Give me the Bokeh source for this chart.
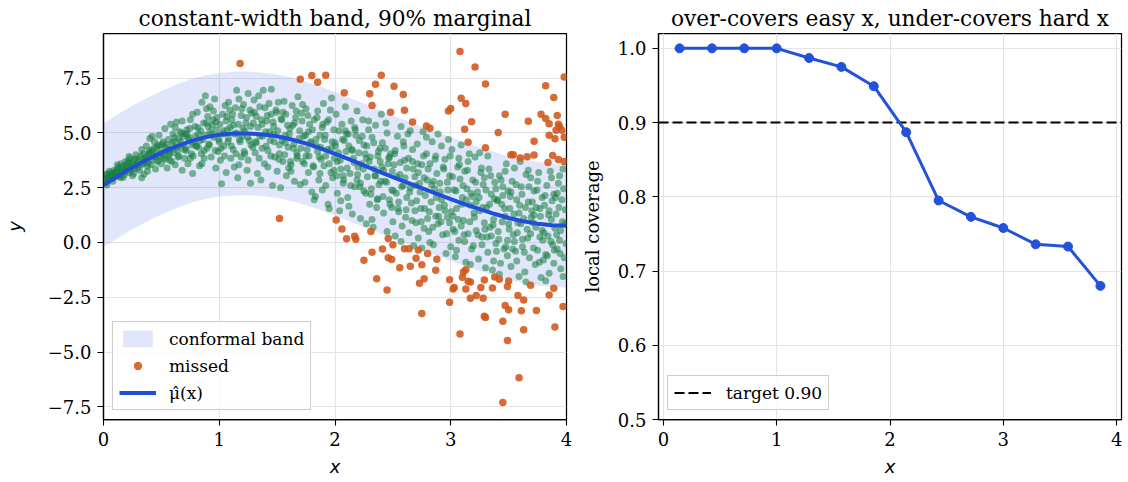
from bokeh.plotting import figure
from bokeh.models import Range1d, FixedTicker, Legend, LegendItem
from bokeh.layouts import row
from bokeh.embed import file_html
from bokeh.resources import INLINE

# ---------------- data: left panel ----------------
mu_x = [0.0, 0.125, 0.25, 0.375, 0.5, 0.625, 0.75, 0.875, 1.0, 1.125, 1.25, 1.375, 1.5,
        1.625, 1.75, 1.875, 2.0, 2.125, 2.25, 2.375, 2.5, 2.625, 2.75, 2.875, 3.0,
        3.125, 3.25, 3.375, 3.5, 3.625, 3.75, 3.875, 4.0]
mu_y = [2.62, 3.03, 3.42, 3.78, 4.10, 4.38, 4.62, 4.80, 4.92, 4.97, 4.98, 4.93, 4.85,
        4.70, 4.52, 4.30, 4.05, 3.79, 3.52, 3.25, 2.98, 2.73, 2.48, 2.23, 1.98,
        1.74, 1.52, 1.31, 1.12, 0.97, 0.86, 0.79, 0.76]
band_q = 2.82

covered = [
    (0.01,2.95),(0.02,2.72),(0.03,3.10),(0.04,2.85),(0.05,3.25),(0.06,2.98),(0.07,3.05),(0.08,2.80),(0.09,3.30),(0.03,2.62),(0.06,3.18),(0.10,3.02),
    (0.11,3.28),(0.12,3.05),(0.13,3.45),(0.14,3.15),(0.15,3.60),(0.16,3.22),(0.17,2.98),(0.18,3.40),(0.19,3.70),(0.12,3.55),(0.15,2.95),(0.18,3.10),(0.20,3.32),
    (0.21,3.62),(0.22,3.20),(0.23,3.85),(0.24,3.48),(0.25,3.05),(0.26,3.75),(0.27,3.38),(0.28,4.00),(0.29,3.55),(0.22,3.92),(0.26,3.15),(0.30,3.68),
    (0.31,3.30),(0.32,3.95),(0.33,4.25),(0.34,3.60),(0.35,3.12),(0.36,3.85),(0.37,4.40),(0.38,3.48),(0.39,4.05),(0.33,2.95),(0.36,3.70),(0.40,4.75),(0.38,3.25),
    (0.41,3.55),(0.42,4.20),(0.43,3.90),(0.44,4.60),(0.45,3.35),(0.46,4.35),(0.47,3.75),(0.48,4.90),(0.49,4.10),(0.42,4.85),(0.45,3.95),(0.50,3.60),(0.47,4.45),
    (0.51,4.50),(0.52,3.85),(0.53,5.20),(0.54,4.15),(0.55,3.40),(0.56,4.70),(0.57,4.05),(0.58,5.40),(0.59,3.70),(0.53,4.35),(0.56,3.95),(0.60,4.95),(0.58,4.25),
    (0.61,4.60),(0.62,3.55),(0.63,5.50),(0.64,4.20),(0.65,3.95),(0.66,5.05),(0.67,4.45),(0.68,3.30),(0.69,4.85),(0.62,5.25),(0.65,4.75),(0.70,3.85),(0.68,5.55),
    (0.71,4.30),(0.72,5.15),(0.73,3.60),(0.74,4.80),(0.75,5.60),(0.76,4.05),(0.77,3.15),(0.78,4.55),(0.79,5.30),(0.72,4.95),(0.75,3.85),(0.80,4.40),(0.77,5.85),
    (0.81,5.95),(0.82,4.35),(0.83,3.50),(0.84,5.10),(0.85,6.40),(0.86,4.70),(0.87,3.85),(0.88,6.70),(0.89,5.45),(0.82,4.95),(0.85,3.60),(0.90,5.75),(0.87,4.20),(0.89,6.10),
    (0.91,4.50),(0.92,6.20),(0.93,3.90),(0.94,5.35),(0.95,4.80),(0.96,6.55),(0.97,3.40),(0.98,5.70),(0.99,4.15),(0.92,5.05),(0.95,6.00),(1.00,4.60),(0.97,5.50),
    (1.01,3.75),(1.02,2.68),(1.03,5.85),(1.04,4.40),(1.05,6.25),(1.06,3.20),(1.07,5.15),(1.08,4.75),(1.09,6.05),(1.03,4.95),(1.06,5.55),(1.10,3.85),(1.08,6.40),
    (1.11,5.60),(1.12,4.25),(1.13,3.45),(1.14,6.15),(1.15,5.00),(1.16,2.95),(1.17,6.55),(1.18,4.60),(1.19,3.90),(1.12,5.35),(1.15,6.95),(1.20,4.85),(1.17,3.55),(1.19,5.80),
    (1.21,6.30),(1.22,4.05),(1.23,5.45),(1.24,3.30),(1.25,6.80),(1.26,4.65),(1.27,2.70),(1.28,5.90),(1.29,4.35),(1.22,5.10),(1.25,3.75),(1.30,6.50),(1.27,5.30),
    (1.31,4.10),(1.32,5.75),(1.33,3.15),(1.34,6.70),(1.35,4.85),(1.36,2.85),(1.37,5.40),(1.38,6.95),(1.39,3.60),(1.32,4.55),(1.35,6.20),(1.40,5.05),(1.37,4.30),
    (1.41,5.55),(1.42,3.45),(1.43,6.35),(1.44,4.65),(1.45,7.00),(1.46,2.60),(1.47,4.95),(1.48,3.90),(1.49,6.05),(1.42,4.20),(1.45,5.85),(1.50,3.25),(1.47,5.30),
    (1.51,6.40),(1.52,4.45),(1.53,2.50),(1.54,5.60),(1.55,3.70),(1.56,6.45),(1.57,4.90),(1.58,3.05),(1.59,5.35),(1.52,4.05),(1.55,5.95),(1.60,3.40),(1.57,4.55),
    (1.61,5.20),(1.62,3.25),(1.63,6.25),(1.64,4.30),(1.65,2.80),(1.66,5.70),(1.67,3.85),(1.68,6.65),(1.69,4.75),(1.62,3.55),(1.65,5.45),(1.70,2.65),(1.67,4.10),
    (1.71,5.90),(1.72,3.70),(1.73,4.85),(1.74,2.75),(1.75,6.10),(1.76,4.25),(1.77,3.20),(1.78,5.40),(1.79,4.60),(1.72,6.30),(1.75,3.95),(1.80,2.30),(1.77,5.05),
    (1.81,3.50),(1.82,5.60),(1.83,2.10),(1.84,4.40),(1.85,6.00),(1.86,2.85),(1.87,4.90),(1.88,3.80),(1.89,5.25),(1.82,1.95),(1.85,4.15),(1.90,6.35),(1.87,3.15),(1.89,2.40),
    (1.91,4.70),(1.92,2.60),(1.93,5.50),(1.94,1.75),(1.95,3.60),(1.96,6.05),(1.97,4.30),(1.98,2.95),(1.99,5.15),(1.92,3.95),(1.95,1.55),(2.00,4.55),(1.97,6.60),(1.99,3.30),
    (2.01,5.85),(2.02,2.25),(2.03,4.10),(2.04,1.45),(2.05,3.35),(2.06,5.40),(2.07,2.70),(2.08,4.65),(2.09,6.20),(2.02,3.70),(2.05,1.90),(2.10,4.95),(2.07,3.05),(2.09,5.10),
    (2.11,2.05),(2.12,4.40),(2.13,3.15),(2.14,5.55),(2.15,1.30),(2.16,3.85),(2.17,2.55),(2.18,4.90),(2.19,6.00),(2.12,1.65),(2.15,4.20),(2.20,3.45),(2.17,5.25),(2.19,2.85),
    (2.21,4.65),(2.22,1.10),(2.23,3.60),(2.24,5.60),(2.25,2.35),(2.26,4.05),(2.27,0.85),(2.28,3.00),(2.29,5.15),(2.22,2.70),(2.25,4.45),(2.30,1.75),(2.27,3.85),(2.29,5.55),
    (2.31,2.20),(2.32,4.80),(2.33,0.70),(2.34,3.35),(2.35,5.35),(2.36,1.60),(2.37,3.95),(2.38,2.65),(2.39,4.30),(2.32,1.05),(2.35,3.05),(2.40,5.85),(2.37,2.00),(2.39,3.70),
    (2.41,4.55),(2.42,1.35),(2.43,2.80),(2.44,5.45),(2.45,0.50),(2.46,3.60),(2.47,1.95),(2.48,4.05),(2.49,2.40),(2.42,3.30),(2.45,5.00),(2.50,0.95),(2.47,3.90),(2.49,1.60),
    (2.51,3.55),(2.52,0.30),(2.53,2.25),(2.54,4.85),(2.55,1.40),(2.56,3.10),(2.57,5.30),(2.58,0.75),(2.59,2.60),(2.52,4.20),(2.55,1.85),(2.60,3.75),(2.57,0.05),(2.59,4.60),
    (2.61,1.15),(2.62,3.40),(2.63,4.95),(2.64,0.45),(2.65,2.50),(2.66,1.80),(2.67,4.25),(2.68,-0.15),(2.69,3.00),(2.62,2.05),(2.65,5.10),(2.70,0.90),(2.67,3.70),(2.69,1.45),
    (2.71,4.50),(2.72,0.20),(2.73,2.70),(2.74,1.55),(2.75,3.55),(2.76,5.05),(2.77,0.65),(2.78,2.15),(2.79,4.05),(2.72,3.20),(2.75,-0.25),(2.80,1.10),(2.77,2.95),(2.79,4.80),
    (2.81,0.50),(2.82,3.60),(2.83,1.85),(2.84,4.60),(2.85,-0.10),(2.86,2.45),(2.87,1.20),(2.88,3.15),(2.89,4.95),(2.82,0.00),(2.85,2.80),(2.90,1.60),(2.87,3.95),(2.89,0.85),
    (2.91,2.30),(2.92,4.40),(2.93,0.35),(2.94,3.35),(2.95,1.45),(2.96,-0.50),(2.97,2.75),(2.98,4.70),(2.99,0.90),(2.92,1.95),(2.95,3.80),(3.00,-0.20),(2.97,1.15),(2.99,3.05),
    (3.01,4.25),(3.02,0.60),(3.03,2.40),(3.04,-0.65),(3.05,1.55),(3.06,3.45),(3.07,0.10),(3.08,2.90),(3.09,4.45),(3.02,1.20),(3.05,-0.35),(3.10,2.05),(3.07,3.85),(3.09,0.75),
    (3.11,1.00),(3.12,3.25),(3.13,-0.90),(3.14,2.45),(3.15,0.40),(3.16,4.05),(3.17,1.70),(3.18,-0.30),(3.19,2.85),(3.12,0.05),(3.15,3.70),(3.20,1.35),(3.17,-1.00),(3.19,2.10),
    (3.21,3.90),(3.22,0.55),(3.23,2.30),(3.24,-0.75),(3.25,1.45),(3.26,3.20),(3.27,-0.10),(3.28,2.65),(3.29,0.90),(3.22,1.85),(3.25,4.10),(3.30,-1.15),(3.27,0.25),(3.29,2.95),
    (3.31,1.60),(3.32,-0.45),(3.33,3.35),(3.34,0.70),(3.35,2.20),(3.36,-1.25),(3.37,1.05),(3.38,2.75),(3.39,-0.05),(3.32,3.95),(3.35,0.30),(3.40,1.90),(3.37,-0.85),(3.39,2.45),
    (3.41,0.50),(3.42,3.05),(3.43,-0.95),(3.44,1.75),(3.45,2.55),(3.46,-0.30),(3.47,1.20),(3.48,3.60),(3.49,0.10),(3.42,-1.45),(3.45,2.15),(3.50,0.85),(3.47,3.25),(3.49,-0.60),
    (3.51,1.55),(3.52,-1.10),(3.53,2.80),(3.54,0.35),(3.55,3.40),(3.56,-0.40),(3.57,1.95),(3.58,0.90),(3.59,-1.55),(3.52,2.30),(3.55,0.05),(3.60,3.70),(3.57,-0.85),(3.59,1.35),
    (3.61,2.55),(3.62,-0.20),(3.63,1.10),(3.64,-1.35),(3.65,3.10),(3.66,0.60),(3.67,1.85),(3.68,-0.70),(3.69,2.95),(3.62,0.15),(3.65,-1.80),(3.70,1.45),(3.67,3.30),(3.69,0.40),
    (3.71,0.90),(3.72,2.35),(3.73,-1.00),(3.74,1.60),(3.75,-0.35),(3.76,3.20),(3.77,0.25),(3.78,-1.60),(3.79,2.05),(3.72,1.25),(3.75,2.80),(3.80,-0.80),(3.77,1.55),(3.79,0.55),
    (3.81,1.70),(3.82,-0.55),(3.83,2.60),(3.84,0.30),(3.85,-1.40),(3.86,3.25),(3.87,1.05),(3.88,-0.10),(3.89,2.20),(3.82,-1.75),(3.85,1.45),(3.90,0.65),(3.87,2.95),(3.89,-0.95),
    (3.91,1.30),(3.92,-0.30),(3.93,2.70),(3.94,0.10),(3.95,-1.20),(3.96,1.95),(3.97,3.35),(3.98,-0.70),(3.99,1.50),(3.92,2.25),(3.95,0.55),(3.97,-1.55),(3.94,3.05),(3.99,0.85),
    # denser core near the fitted curve
    (0.015,2.88),(0.025,3.12),(0.045,2.95),(0.055,3.08),(0.075,2.92),(0.085,3.18),(0.095,3.00),
    (0.105,3.20),(0.125,3.35),(0.135,3.02),(0.155,3.28),(0.165,3.48),(0.185,3.25),(0.195,3.52),
    (0.205,3.45),(0.215,3.70),(0.235,3.30),(0.245,3.60),(0.265,3.52),(0.275,3.82),(0.295,3.40),
    (0.305,3.80),(0.325,3.55),(0.345,4.05),(0.355,3.75),(0.375,3.95),(0.385,3.62),(0.395,4.20),
    (0.405,4.10),(0.415,3.78),(0.435,4.30),(0.455,4.05),(0.465,3.70),(0.485,4.40),(0.495,3.92),
    (0.505,4.05),(0.515,4.60),(0.535,3.80),(0.545,4.45),(0.565,4.25),(0.575,3.75),(0.595,4.55),
    (0.605,4.10),(0.615,4.80),(0.635,4.35),(0.645,3.90),(0.665,4.60),(0.675,5.00),(0.695,4.25),
    (0.705,4.95),(0.715,4.20),(0.735,4.70),(0.745,5.20),(0.765,4.45),(0.775,3.95),(0.795,4.85),
    (0.805,4.40),(0.815,5.25),(0.835,4.65),(0.845,4.05),(0.865,5.45),(0.875,4.90),(0.895,4.30),
    (0.905,5.30),(0.915,4.45),(0.935,4.95),(0.945,5.60),(0.965,4.20),(0.975,5.15),(0.995,4.70),
    (1.005,5.40),(1.015,4.30),(1.035,5.10),(1.045,3.95),(1.065,5.75),(1.075,4.60),(1.095,5.25),
    (1.105,4.40),(1.115,5.85),(1.135,4.95),(1.145,4.05),(1.165,5.40),(1.175,4.70),(1.195,6.10),
    (1.205,5.20),(1.215,4.15),(1.235,5.70),(1.245,4.80),(1.265,6.05),(1.275,4.45),(1.295,5.45),
    (1.305,5.95),(1.315,4.60),(1.335,5.25),(1.345,3.85),(1.365,5.60),(1.375,4.85),(1.395,6.15),
    (1.405,4.40),(1.415,5.80),(1.435,5.05),(1.445,3.95),(1.465,5.50),(1.475,4.60),(1.495,5.95),
    (1.505,5.10),(1.515,3.80),(1.535,5.65),(1.545,4.65),(1.565,4.00),(1.575,5.85),(1.595,4.35),
    (1.605,4.95),(1.615,3.70),(1.635,5.35),(1.645,4.50),(1.665,6.00),(1.675,3.95),(1.695,5.10),
    (1.705,4.30),(1.715,5.55),(1.735,3.60),(1.745,4.90),(1.765,5.80),(1.775,3.95),(1.795,4.55),
    (1.805,5.15),(1.815,3.45),(1.835,4.70),(1.845,5.70),(1.865,3.90),(1.875,4.35),(1.895,5.40),
    (1.905,3.50),(1.915,4.90),(1.935,4.25),(1.945,5.60),(1.965,3.20),(1.975,4.60),(1.995,3.85),
    (2.005,4.40),(2.015,3.05),(2.035,5.10),(2.045,3.75),(2.065,4.70),(2.075,2.85),(2.095,4.15),
    (2.105,3.40),(2.115,4.95),(2.135,2.60),(2.145,4.25),(2.165,3.65),(2.175,5.15),(2.195,3.10),
    (2.205,4.10),(2.215,2.55),(2.235,4.85),(2.245,3.35),(2.265,2.25),(2.275,4.40),(2.295,3.70),
    (2.305,3.90),(2.315,2.45),(2.335,4.55),(2.345,3.05),(2.365,1.95),(2.375,4.15),(2.395,2.80),
    (2.405,3.45),(2.415,2.10),(2.435,4.30),(2.445,2.75),(2.465,3.85),(2.475,1.75),(2.495,3.25),
    (2.505,2.35),(2.515,4.05),(2.535,3.00),(2.545,1.55),(2.565,3.65),(2.575,2.55),(2.595,4.40),
    (2.605,2.95),(2.615,1.50),(2.635,3.85),(2.645,2.30),(2.665,1.00),(2.675,3.35),(2.695,2.60),
    (2.705,1.90),(2.715,3.60),(2.735,2.30),(2.745,0.95),(2.765,3.95),(2.775,1.55),(2.795,2.85),
    (2.805,3.35),(2.815,1.40),(2.835,2.65),(2.845,0.70),(2.865,3.80),(2.875,2.05),(2.895,1.20),
    (2.905,2.70),(2.915,0.95),(2.935,3.45),(2.945,1.70),(2.965,0.40),(2.975,2.40),(2.995,3.95),
    (3.005,1.40),(3.015,3.00),(3.035,0.50),(3.045,2.35),(3.065,1.05),(3.075,3.55),(3.095,1.75),
    (3.105,2.60),(3.115,0.35),(3.135,1.95),(3.145,3.30),(3.165,0.95),(3.175,2.25),(3.195,-0.15),
    (3.205,1.15),(3.215,2.75),(3.235,0.35),(3.245,2.05),(3.265,3.40),(3.275,1.60),(3.295,0.60),
    (3.305,2.40),(3.315,0.25),(3.335,1.75),(3.345,3.05),(3.365,0.80),(3.375,2.00),(3.395,-0.40),
    (3.405,1.95),(3.415,0.15),(3.435,2.85),(3.445,0.95),(3.465,1.55),(3.475,-0.20),(3.495,2.35),
    (3.505,0.60),(3.515,2.10),(3.535,-0.30),(3.545,1.30),(3.565,2.65),(3.575,0.45),(3.595,1.70),
    (3.605,0.85),(3.615,2.20),(3.635,-0.45),(3.645,1.60),(3.665,0.20),(3.675,2.55),(3.695,1.15),
    (3.705,1.85),(3.715,-0.25),(3.735,0.70),(3.745,2.40),(3.765,-0.90),(3.775,1.20),(3.795,0.10),
    (3.805,0.45),(3.815,2.15),(3.835,-0.60),(3.845,1.25),(3.865,0.05),(3.875,1.90),(3.895,-0.35),
    (3.905,2.05),(3.915,0.35),(3.935,1.60),(3.945,-0.50),(3.965,0.95),(3.975,2.45),(3.995,-0.05),
]

missed = [
    (1.18,8.17),(1.70,7.45),(1.80,7.62),(1.85,7.32),(1.92,7.63),(2.08,6.84),(2.30,6.79),(2.35,7.22),
    (2.40,7.63),(2.32,6.25),(2.48,5.95),(2.51,7.13),(2.59,6.75),(2.60,6.04),(2.67,5.50),(2.79,5.32),
    (2.82,5.22),(3.08,8.72),(3.21,8.01),(3.30,7.24),(3.09,6.58),(3.13,6.34),(2.98,6.00),(3.00,6.12),
    (3.12,5.17),(3.18,5.51),(3.15,4.58),(3.30,4.33),(3.41,5.02),(3.47,5.85),(3.52,4.01),(3.54,4.01),
    (3.60,3.86),(3.66,3.91),(3.72,3.99),(3.72,4.62),(3.67,5.54),(3.78,5.85),(3.82,5.66),(3.85,5.42),
    (3.82,7.15),(3.89,6.62),(3.92,5.80),(3.93,5.40),(3.91,5.12),(3.94,5.28),(3.85,4.90),(3.90,4.74),
    (3.98,4.80),(3.98,7.56),(3.88,3.97),(3.93,3.79),(3.98,3.70),(3.84,3.65),(3.96,5.12),
    (1.52,1.09),(2.01,1.03),(2.06,0.62),(2.10,0.17),(2.17,0.28),(2.18,0.15),(2.25,-0.81),(2.31,0.50),
    (2.32,-0.44),(2.36,-1.66),(2.41,-0.30),(2.45,-2.17),(2.46,0.18),(2.46,-0.70),(2.49,-0.78),(2.50,-0.10),
    (2.56,-1.15),(2.60,-0.29),(2.64,-0.28),(2.65,-1.09),(2.70,-0.72),(2.72,-0.34),(2.80,-0.50),(2.75,-1.02),
    (2.88,-0.77),(2.87,-1.27),(2.77,-1.66),(2.73,-1.86),(2.75,-3.24),(2.99,-1.70),(3.02,-2.12),(3.03,-2.05),
    (2.99,-2.73),(3.08,-4.18),(3.11,-1.35),(3.13,-1.24),(3.10,-1.59),(3.15,-1.77),(3.17,-1.80),(3.13,-2.12),
    (3.17,-2.54),(3.22,-2.42),(3.28,-2.54),(3.26,-2.05),(3.29,-1.71),(3.29,-3.37),(3.30,-3.42),(3.36,-2.08),
    (3.38,-1.58),(3.42,-1.68),(3.50,-1.76),(3.49,-2.01),(3.45,-3.60),(3.49,-4.47),(3.47,-2.88),(3.50,-3.07),
    (3.45,-7.30),(3.59,-6.17),(3.58,-2.42),(3.63,-2.62),(3.61,-3.12),(3.63,-3.98),(3.69,-1.95),(3.74,-3.10),
    (3.85,-2.40),(3.89,-2.09),(3.90,-3.86),(3.97,-2.92),
]

# ---------------- data: right panel ----------------
bin_centers = [0.143, 0.429, 0.714, 1.0, 1.286, 1.571, 1.857, 2.143, 2.429, 2.714, 3.0, 3.286, 3.571, 3.857]
local_cov = [1.0, 1.0, 1.0, 1.0, 0.987, 0.975, 0.949, 0.887, 0.795, 0.773, 0.758, 0.736, 0.733, 0.680]
target = 0.90

left_yticks = [-7.5, -5.0, -2.5, 0.0, 2.5, 5.0, 7.5]
left_ylabels = ["\u22127.5", "\u22125.0", "\u22122.5", "0.0", "2.5", "5.0", "7.5"]
right_yticks = [0.5, 0.6, 0.7, 0.8, 0.9, 1.0]
right_ylabels = ["0.5", "0.6", "0.7", "0.8", "0.9", "1.0"]
xticks = [0, 1, 2, 3, 4]

# ---------------- styling helpers ----------------
SERIF = "DejaVu Serif"
SANS = "DejaVu Sans"


def style(p, title):
    p.title.text = title
    p.title.text_font = SERIF
    p.title.text_font_size = "21.7px"
    p.title.text_font_style = "normal"
    p.title.align = "center"
    p.title.standoff = 6
    p.title.text_color = "black"
    p.outline_line_color = "black"
    p.outline_line_width = 1.25
    p.outline_line_alpha = 1.0
    p.grid.grid_line_color = "#e4e4e4"
    p.grid.grid_line_width = 1.2
    for ax in p.axis:
        ax.axis_line_color = "black"
        ax.axis_line_width = 1.25
        ax.major_tick_line_color = "black"
        ax.major_tick_line_width = 1.1
        ax.major_tick_out = 6
        ax.major_tick_in = 0
        ax.minor_tick_line_color = None
        ax.major_label_text_font = SERIF
        ax.major_label_text_font_size = "18px"
        ax.major_label_text_color = "black"
        ax.major_label_standoff = 6
        ax.axis_label_text_font_size = "18px"
        ax.axis_label_text_color = "black"


def style_legend(lg):
    lg.label_text_font = SERIF
    lg.label_text_font_size = "17px"
    lg.label_text_color = "black"
    lg.border_line_color = "#cccccc"
    lg.border_line_width = 1.2
    lg.border_line_alpha = 1.0
    lg.background_fill_color = "white"
    lg.background_fill_alpha = 0.85
    lg.margin = 9
    lg.padding = 6
    lg.spacing = 6
    lg.glyph_width = 37
    lg.glyph_height = 21
    lg.label_height = 21
    lg.label_standoff = 13
    lg.location = "bottom_left"


# ---------------- left panel ----------------
p1 = figure(width=578, height=479, output_backend="svg", toolbar_location=None,
            x_range=Range1d(0, 4), y_range=Range1d(-8.08, 9.54),
            min_border_left=103, min_border_right=12, min_border_top=33, min_border_bottom=60)
style(p1, "constant-width band, 90% marginal")

upper = [m + band_q for m in mu_y]
lower = [m - band_q for m in mu_y]
r_band = p1.varea(x=mu_x, y1=lower, y2=upper, fill_color="#3355dd", fill_alpha=0.15)

cx = [pt[0] for pt in covered]
cy = [pt[1] for pt in covered]
mx = [pt[0] for pt in missed]
my = [pt[1] for pt in missed]
p1.scatter(cx, cy, size=7, fill_color="#17803f", fill_alpha=0.55, line_color=None)
r_miss = p1.scatter(mx, my, size=7.5, fill_color="#d2561b", fill_alpha=0.88, line_color=None)
r_mu = p1.line(mu_x, mu_y, line_color="#1f4fd8", line_width=4)

p1.xaxis.ticker = FixedTicker(ticks=xticks)
p1.yaxis.ticker = FixedTicker(ticks=left_yticks)
p1.yaxis.major_label_overrides = {t: s for t, s in zip(left_yticks, left_ylabels)}
p1.xaxis.axis_label = "x"
p1.yaxis.axis_label = "y"
for ax in p1.axis:
    ax.axis_label_text_font = SANS
    ax.axis_label_text_font_style = "italic"
p1.xaxis.axis_label_standoff = 7
p1.yaxis.axis_label_standoff = 20

lg1 = Legend(items=[LegendItem(label="conformal band", renderers=[r_band]),
                    LegendItem(label="missed", renderers=[r_miss]),
                    LegendItem(label="\u03bc\u0302(x)", renderers=[r_mu])])
style_legend(lg1)
p1.add_layout(lg1)

# ---------------- right panel ----------------
x2 = Range1d(-0.043, 4.043)
p2 = figure(width=548, height=479, output_backend="svg", toolbar_location=None,
            x_range=x2, y_range=Range1d(0.5, 1.02),
            min_border_left=80, min_border_right=5, min_border_top=33, min_border_bottom=60)
style(p2, "over-covers easy x, under-covers hard x")

r_tgt = p2.line(x=[x2.start, x2.end], y=[target, target], line_color="black",
                line_dash="10 4", line_width=2)
p2.line(bin_centers, local_cov, line_color="#2152d9", line_width=3)
p2.scatter(bin_centers, local_cov, size=9, fill_color="#2152d9", line_color="#2152d9")

p2.xaxis.ticker = FixedTicker(ticks=xticks)
p2.yaxis.ticker = FixedTicker(ticks=right_yticks)
p2.yaxis.major_label_overrides = {t: s for t, s in zip(right_yticks, right_ylabels)}
p2.xaxis.axis_label = "x"
p2.xaxis.axis_label_text_font = SANS
p2.xaxis.axis_label_text_font_style = "italic"
p2.xaxis.axis_label_standoff = 7
p2.yaxis.axis_label = "local coverage"
p2.yaxis.axis_label_text_font = SERIF
p2.yaxis.axis_label_text_font_style = "normal"
p2.yaxis.axis_label_standoff = 12

lg2 = Legend(items=[LegendItem(label="target 0.90", renderers=[r_tgt])])
style_legend(lg2)
lg2.label_standoff = 15
p2.add_layout(lg2)

layout = row(p1, p2)
open("out.html", "w").write(file_html(layout, INLINE))
